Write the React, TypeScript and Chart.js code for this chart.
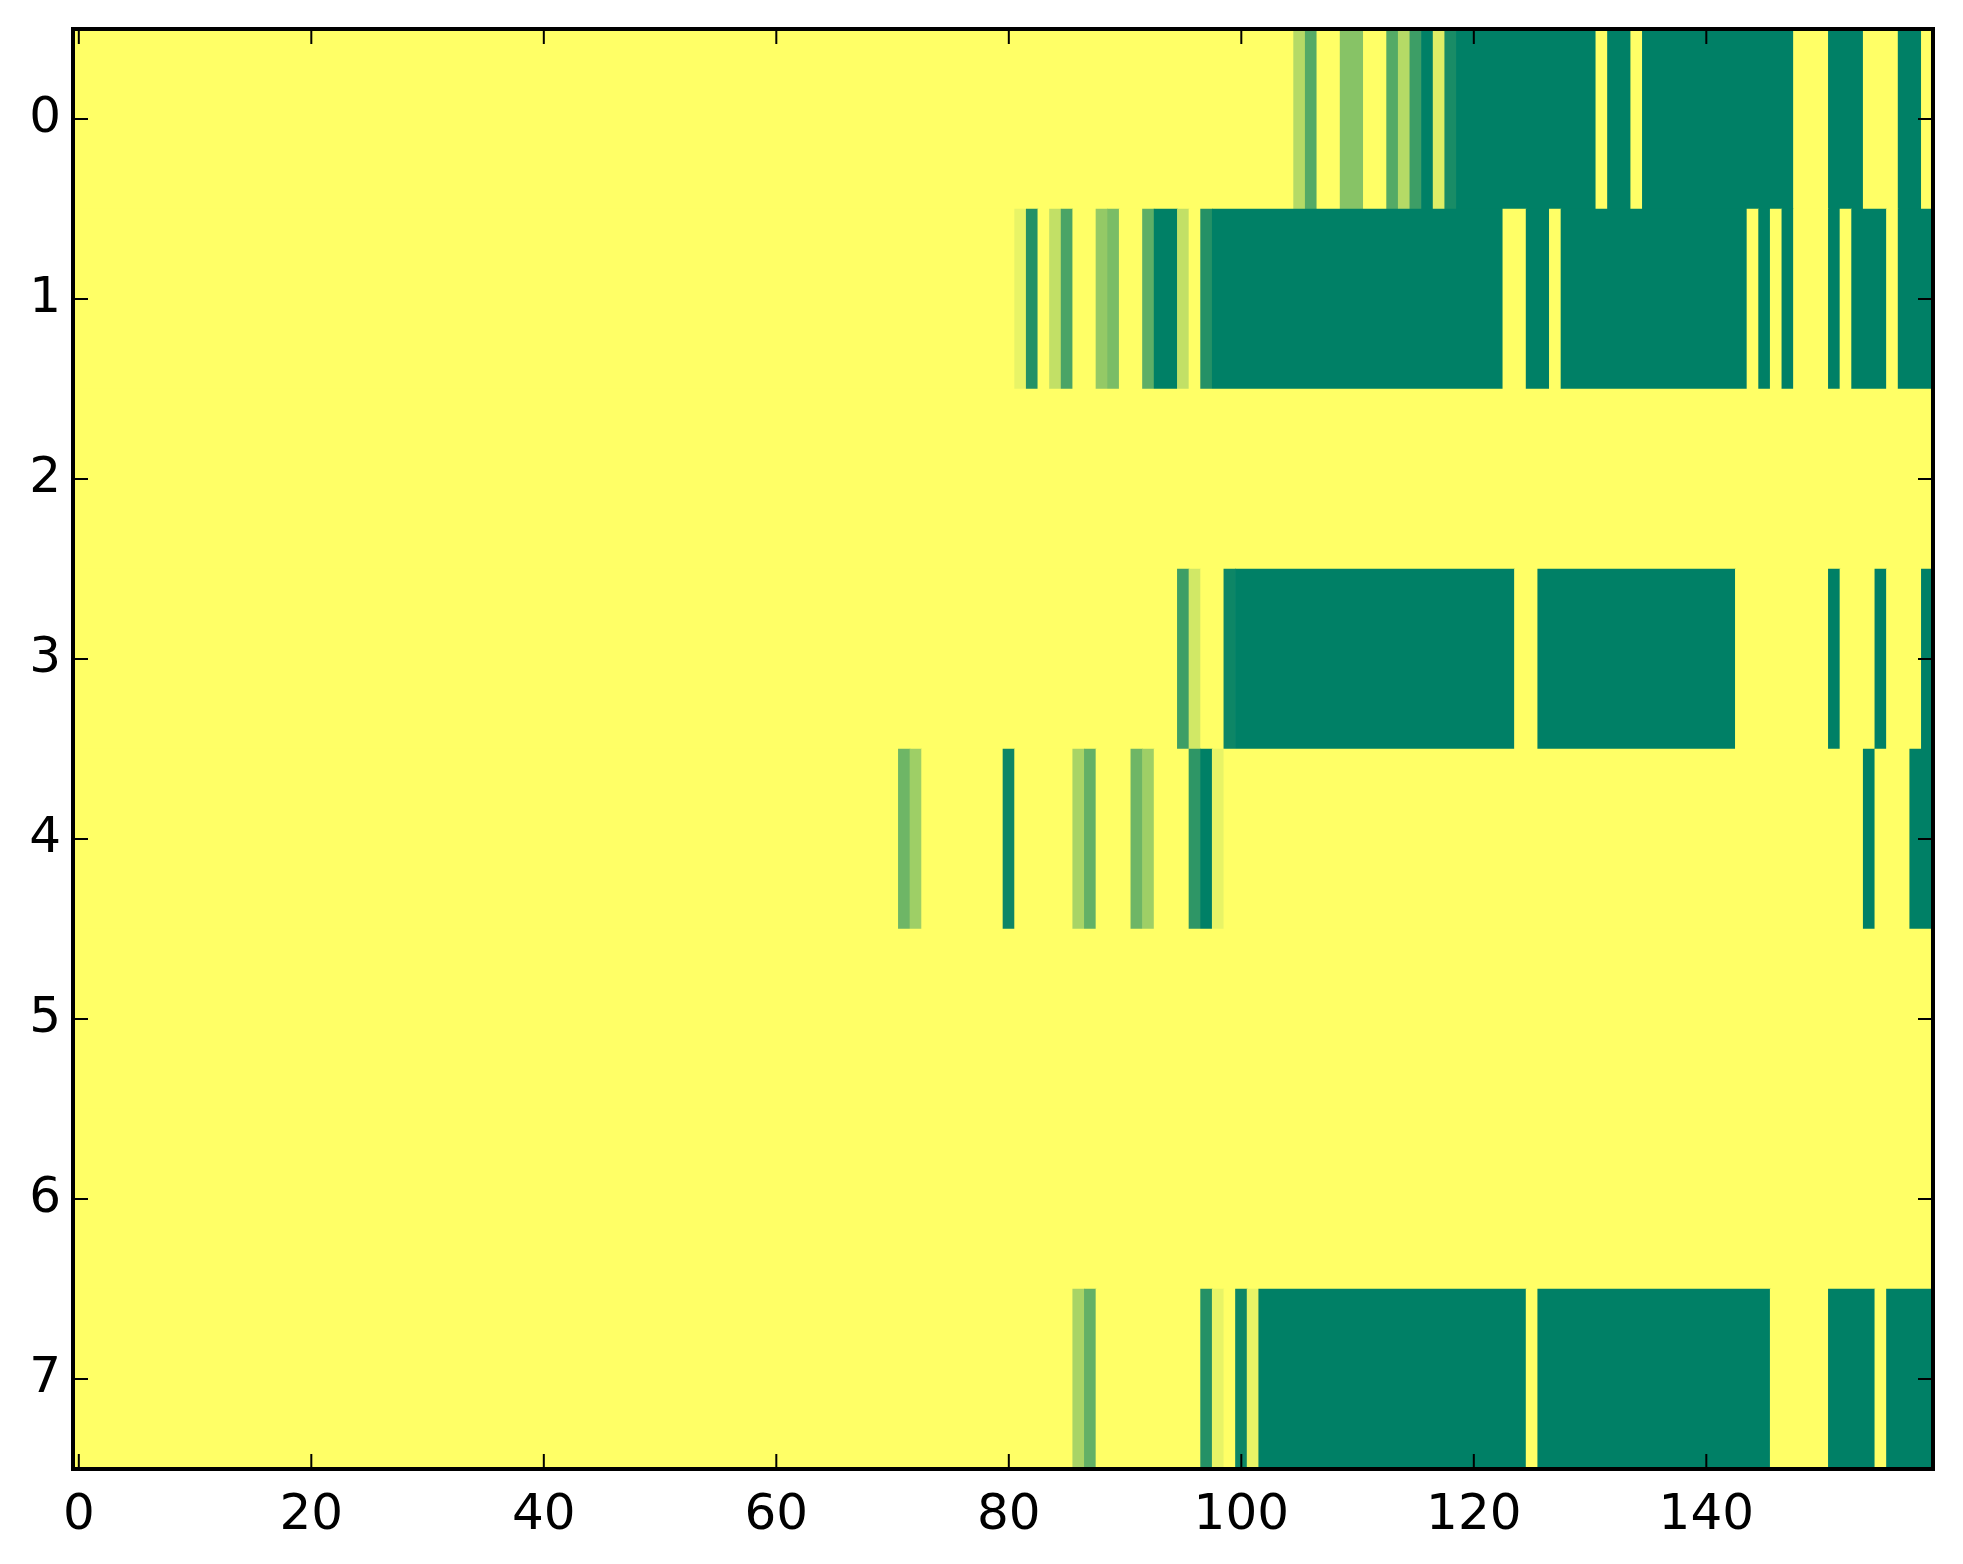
import React, { useEffect, useRef } from "react";
import { Chart, registerables } from "chart.js";

Chart.register(...registerables);

const rowLabels = ["0", "1", "2", "3", "4", "5", "6", "7"];
const xTickValues = [0, 20, 40, 60, 80, 100, 120, 140];

// 160 columns per row (0..159), value 0 = yellow, 1 = dark green (summer_r colormap)
const row0 = [
  0, 0, 0, 0, 0, 0, 0, 0, 0, 0, 0, 0, 0, 0, 0, 0, 0, 0, 0, 0,
  0, 0, 0, 0, 0, 0, 0, 0, 0, 0, 0, 0, 0, 0, 0, 0, 0, 0, 0, 0,
  0, 0, 0, 0, 0, 0, 0, 0, 0, 0, 0, 0, 0, 0, 0, 0, 0, 0, 0, 0,
  0, 0, 0, 0, 0, 0, 0, 0, 0, 0, 0, 0, 0, 0, 0, 0, 0, 0, 0, 0,
  0, 0, 0, 0, 0, 0, 0, 0, 0, 0, 0, 0, 0, 0, 0, 0, 0, 0, 0, 0,
  0, 0, 0, 0, 0, 0.29, 0.67, 0, 0, 0.47, 0.47, 0, 0, 0.67, 0.29, 0.76, 1, 0.13, 0.9, 1,
  1, 1, 1, 1, 1, 1, 1, 1, 1, 1, 1, 0, 1, 1, 0, 1, 1, 1, 1, 1,
  1, 1, 1, 1, 1, 1, 1, 1, 0, 0, 0, 1, 1, 1, 0, 0, 0, 1, 1, 0,
];
const row1 = [
  0, 0, 0, 0, 0, 0, 0, 0, 0, 0, 0, 0, 0, 0, 0, 0, 0, 0, 0, 0,
  0, 0, 0, 0, 0, 0, 0, 0, 0, 0, 0, 0, 0, 0, 0, 0, 0, 0, 0, 0,
  0, 0, 0, 0, 0, 0, 0, 0, 0, 0, 0, 0, 0, 0, 0, 0, 0, 0, 0, 0,
  0, 0, 0, 0, 0, 0, 0, 0, 0, 0, 0, 0, 0, 0, 0, 0, 0, 0, 0, 0,
  0, 0.09, 0.86, 0, 0.24, 0.71, 0, 0, 0.42, 0.52, 0, 0, 0.63, 1, 1, 0.24, 0, 0.86, 1, 1,
  1, 1, 1, 1, 1, 1, 1, 1, 1, 1, 1, 1, 1, 1, 1, 1, 1, 1, 1, 1,
  1, 1, 1, 0, 0, 1, 1, 0, 1, 1, 1, 1, 1, 1, 1, 1, 1, 1, 1, 1,
  1, 1, 1, 1, 0, 1, 0, 1, 0, 0, 0, 1, 0, 1, 1, 1, 0, 1, 1, 1,
];
const row2 = [
  0, 0, 0, 0, 0, 0, 0, 0, 0, 0, 0, 0, 0, 0, 0, 0, 0, 0, 0, 0,
  0, 0, 0, 0, 0, 0, 0, 0, 0, 0, 0, 0, 0, 0, 0, 0, 0, 0, 0, 0,
  0, 0, 0, 0, 0, 0, 0, 0, 0, 0, 0, 0, 0, 0, 0, 0, 0, 0, 0, 0,
  0, 0, 0, 0, 0, 0, 0, 0, 0, 0, 0, 0, 0, 0, 0, 0, 0, 0, 0, 0,
  0, 0, 0, 0, 0, 0, 0, 0, 0, 0, 0, 0, 0, 0, 0, 0, 0, 0, 0, 0,
  0, 0, 0, 0, 0, 0, 0, 0, 0, 0, 0, 0, 0, 0, 0, 0, 0, 0, 0, 0,
  0, 0, 0, 0, 0, 0, 0, 0, 0, 0, 0, 0, 0, 0, 0, 0, 0, 0, 0, 0,
  0, 0, 0, 0, 0, 0, 0, 0, 0, 0, 0, 0, 0, 0, 0, 0, 0, 0, 0, 0,
];
const row3 = [
  0, 0, 0, 0, 0, 0, 0, 0, 0, 0, 0, 0, 0, 0, 0, 0, 0, 0, 0, 0,
  0, 0, 0, 0, 0, 0, 0, 0, 0, 0, 0, 0, 0, 0, 0, 0, 0, 0, 0, 0,
  0, 0, 0, 0, 0, 0, 0, 0, 0, 0, 0, 0, 0, 0, 0, 0, 0, 0, 0, 0,
  0, 0, 0, 0, 0, 0, 0, 0, 0, 0, 0, 0, 0, 0, 0, 0, 0, 0, 0, 0,
  0, 0, 0, 0, 0, 0, 0, 0, 0, 0, 0, 0, 0, 0, 0, 0.76, 0.18, 0, 0, 0.95,
  1, 1, 1, 1, 1, 1, 1, 1, 1, 1, 1, 1, 1, 1, 1, 1, 1, 1, 1, 1,
  1, 1, 1, 1, 0, 0, 1, 1, 1, 1, 1, 1, 1, 1, 1, 1, 1, 1, 1, 1,
  1, 1, 1, 0, 0, 0, 0, 0, 0, 0, 0, 1, 0, 0, 0, 1, 0, 0, 0, 1,
];
const row4 = [
  0, 0, 0, 0, 0, 0, 0, 0, 0, 0, 0, 0, 0, 0, 0, 0, 0, 0, 0, 0,
  0, 0, 0, 0, 0, 0, 0, 0, 0, 0, 0, 0, 0, 0, 0, 0, 0, 0, 0, 0,
  0, 0, 0, 0, 0, 0, 0, 0, 0, 0, 0, 0, 0, 0, 0, 0, 0, 0, 0, 0,
  0, 0, 0, 0, 0, 0, 0, 0, 0, 0, 0, 0.57, 0.38, 0, 0, 0, 0, 0, 0, 0,
  0.95, 0, 0, 0, 0, 0, 0.34, 0.61, 0, 0, 0, 0.57, 0.38, 0, 0, 0, 0.82, 1, 0.09, 0,
  0, 0, 0, 0, 0, 0, 0, 0, 0, 0, 0, 0, 0, 0, 0, 0, 0, 0, 0, 0,
  0, 0, 0, 0, 0, 0, 0, 0, 0, 0, 0, 0, 0, 0, 0, 0, 0, 0, 0, 0,
  0, 0, 0, 0, 0, 0, 0, 0, 0, 0, 0, 0, 0, 0, 1, 0, 0, 0, 1, 1,
];
const row5 = [
  0, 0, 0, 0, 0, 0, 0, 0, 0, 0, 0, 0, 0, 0, 0, 0, 0, 0, 0, 0,
  0, 0, 0, 0, 0, 0, 0, 0, 0, 0, 0, 0, 0, 0, 0, 0, 0, 0, 0, 0,
  0, 0, 0, 0, 0, 0, 0, 0, 0, 0, 0, 0, 0, 0, 0, 0, 0, 0, 0, 0,
  0, 0, 0, 0, 0, 0, 0, 0, 0, 0, 0, 0, 0, 0, 0, 0, 0, 0, 0, 0,
  0, 0, 0, 0, 0, 0, 0, 0, 0, 0, 0, 0, 0, 0, 0, 0, 0, 0, 0, 0,
  0, 0, 0, 0, 0, 0, 0, 0, 0, 0, 0, 0, 0, 0, 0, 0, 0, 0, 0, 0,
  0, 0, 0, 0, 0, 0, 0, 0, 0, 0, 0, 0, 0, 0, 0, 0, 0, 0, 0, 0,
  0, 0, 0, 0, 0, 0, 0, 0, 0, 0, 0, 0, 0, 0, 0, 0, 0, 0, 0, 0,
];
const row6 = [
  0, 0, 0, 0, 0, 0, 0, 0, 0, 0, 0, 0, 0, 0, 0, 0, 0, 0, 0, 0,
  0, 0, 0, 0, 0, 0, 0, 0, 0, 0, 0, 0, 0, 0, 0, 0, 0, 0, 0, 0,
  0, 0, 0, 0, 0, 0, 0, 0, 0, 0, 0, 0, 0, 0, 0, 0, 0, 0, 0, 0,
  0, 0, 0, 0, 0, 0, 0, 0, 0, 0, 0, 0, 0, 0, 0, 0, 0, 0, 0, 0,
  0, 0, 0, 0, 0, 0, 0, 0, 0, 0, 0, 0, 0, 0, 0, 0, 0, 0, 0, 0,
  0, 0, 0, 0, 0, 0, 0, 0, 0, 0, 0, 0, 0, 0, 0, 0, 0, 0, 0, 0,
  0, 0, 0, 0, 0, 0, 0, 0, 0, 0, 0, 0, 0, 0, 0, 0, 0, 0, 0, 0,
  0, 0, 0, 0, 0, 0, 0, 0, 0, 0, 0, 0, 0, 0, 0, 0, 0, 0, 0, 0,
];
const row7 = [
  0, 0, 0, 0, 0, 0, 0, 0, 0, 0, 0, 0, 0, 0, 0, 0, 0, 0, 0, 0,
  0, 0, 0, 0, 0, 0, 0, 0, 0, 0, 0, 0, 0, 0, 0, 0, 0, 0, 0, 0,
  0, 0, 0, 0, 0, 0, 0, 0, 0, 0, 0, 0, 0, 0, 0, 0, 0, 0, 0, 0,
  0, 0, 0, 0, 0, 0, 0, 0, 0, 0, 0, 0, 0, 0, 0, 0, 0, 0, 0, 0,
  0, 0, 0, 0, 0, 0, 0.34, 0.61, 0, 0, 0, 0, 0, 0, 0, 0, 0, 0.86, 0.09, 0,
  0.95, 0.09, 1, 1, 1, 1, 1, 1, 1, 1, 1, 1, 1, 1, 1, 1, 1, 1, 1, 1,
  1, 1, 1, 1, 1, 0, 1, 1, 1, 1, 1, 1, 1, 1, 1, 1, 1, 1, 1, 1,
  1, 1, 1, 1, 1, 1, 0, 0, 0, 0, 0, 1, 1, 1, 1, 0, 1, 1, 1, 1,
];

const rows = [row0, row1, row2, row3, row4, row5, row6, row7];

function summerR(v: number): string {
  const t = 1 - v;
  return `rgb(${Math.round(255 * t)},${Math.round(255 * (0.5 + t / 2))},102)`;
}

const framePlugin = {
  id: "mplFrame",
  afterDraw(chart: any) {
    const { ctx, chartArea, scales } = chart;
    const { left, right, top, bottom } = chartArea;
    const x = scales.x;
    const y = scales.y;
    ctx.save();
    ctx.strokeStyle = "#000";
    ctx.lineWidth = 2;
    const line = (x1: number, y1: number, x2: number, y2: number) => {
      ctx.beginPath();
      ctx.moveTo(x1, y1);
      ctx.lineTo(x2, y2);
      ctx.stroke();
    };
    x.ticks.forEach((_: any, i: number) => {
      const px = x.getPixelForTick(i);
      line(px, bottom, px, bottom - 15);
      line(px, top, px, top + 15);
    });
    y.ticks.forEach((_: any, i: number) => {
      const py = y.getPixelForTick(i);
      line(left, py, left + 15, py);
      line(right, py, right - 15, py);
    });
    ctx.lineWidth = 4;
    ctx.strokeRect(left, top, right - left, bottom - top);
    ctx.restore();
  },
};

export default function App() {
  const canvasRef = useRef<HTMLCanvasElement | null>(null);

  useEffect(() => {
    if (!canvasRef.current) return;
    const bars: any[] = [];
    const colors: string[] = [];
    rows.forEach((row, r) => {
      let s = 0;
      for (let c = 1; c <= row.length; c++) {
        if (c === row.length || row[c] !== row[s]) {
          bars.push({ y: rowLabels[r], x: [s - 0.5, c - 0.5] });
          colors.push(summerR(row[s]));
          s = c;
        }
      }
    });

    const font = { family: "'DejaVu Sans', sans-serif", size: 50 };

    const chart = new Chart(canvasRef.current, {
      type: "bar",
      data: {
        labels: rowLabels,
        datasets: [
          {
            data: bars,
            backgroundColor: colors,
            borderWidth: 0,
            barPercentage: 1,
            categoryPercentage: 1,
          } as any,
        ],
      },
      options: {
        indexAxis: "y",
        animation: false,
        responsive: false,
        devicePixelRatio: 1,
        layout: { padding: { left: 0, top: 29, right: 30, bottom: 0 } },
        plugins: {
          legend: { display: false },
          tooltip: { enabled: false },
        },
        scales: {
          x: {
            type: "linear",
            position: "bottom",
            min: -0.5,
            max: 159.5,
            grid: { display: false },
            border: { display: false },
            ticks: { font, color: "#000", padding: 9, maxRotation: 0, autoSkip: false },
            afterBuildTicks: (s: any) => {
              s.ticks = xTickValues.map((v) => ({ value: v }));
            },
            afterFit: (s: any) => {
              s.height = 95;
              s.paddingLeft = 0;
              s.paddingRight = 0;
            },
          },
          y: {
            type: "category",
            position: "left",
            offset: true,
            grid: { display: false, drawTicks: false },
            border: { display: false },
            ticks: { font, color: "#000", padding: 12 },
            afterFit: (s: any) => {
              s.width = 73;
              s.paddingTop = 0;
              s.paddingBottom = 0;
            },
          },
        },
      } as any,
      plugins: [framePlugin],
    });
    return () => chart.destroy();
  }, []);

  return (
    <div style={{ position: "fixed", left: 0, top: 0, width: 1963, height: 1564, background: "#fff" }}>
      <canvas ref={canvasRef} width={1963} height={1564} style={{ width: 1963, height: 1564, display: "block" }} />
    </div>
  );
}
